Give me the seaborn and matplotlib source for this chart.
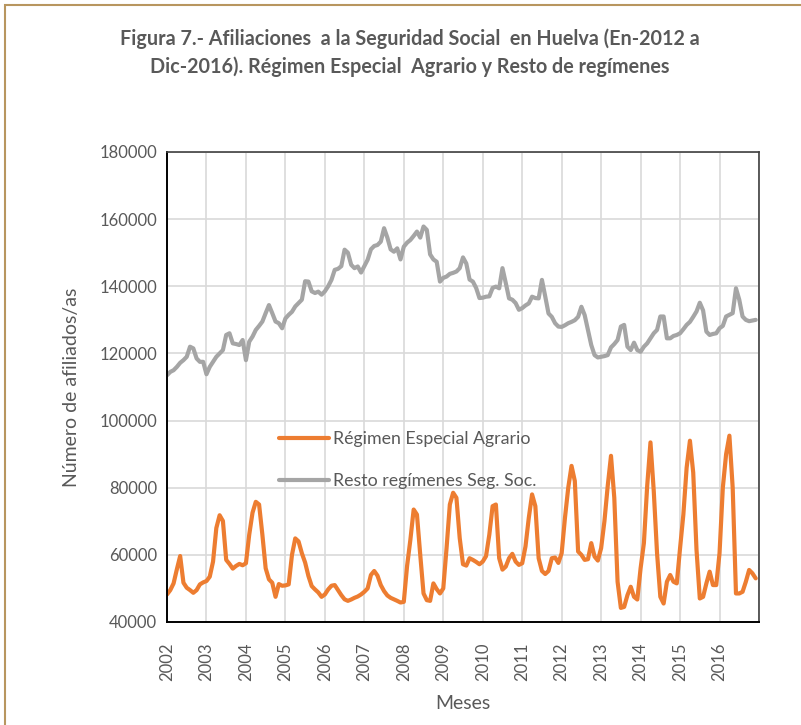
import numpy as np
import pandas as pd
import matplotlib
matplotlib.use("Agg")
import matplotlib.pyplot as plt
from matplotlib.patches import Rectangle
import seaborn as sns

# Afiliaciones mensuales, enero 2002 - diciembre 2016 (una fila por año)
agrario = [
    48200, 49500, 51500, 55700, 59650, 51700, 50200, 49500, 48700, 49500, 51200, 51800,  # 2002
    52200, 53500, 58000, 68000, 71800, 70100, 58500, 57300, 55900, 56700, 57300, 56900,  # 2003
    57500, 66000, 72550, 75800, 75000, 66000, 56000, 52700, 51700, 47500, 51300, 50800,  # 2004
    50900, 51200, 60000, 64900, 64000, 60500, 57700, 53700, 50700, 49700, 48800, 47500,  # 2005
    48200, 49700, 50800, 51000, 49500, 48000, 46750, 46300, 46700, 47200, 47600, 48200,  # 2006
    49000, 50000, 54000, 55200, 53800, 51000, 49200, 47900, 47200, 46750, 46300, 45800,  # 2007
    46000, 56700, 64500, 73500, 72000, 60000, 48500, 46500, 46300, 51500, 49800, 48500,  # 2008
    50000, 62000, 75000, 78500, 77000, 65000, 57200, 56800, 59000, 58500, 57900, 57200,  # 2009
    58000, 59600, 66000, 74500, 75000, 59000, 55600, 56500, 59000, 60300, 58000, 57000,  # 2010
    57500, 62500, 71000, 78000, 74500, 59000, 55200, 54300, 55200, 59000, 59200, 57600,  # 2011
    60500, 71000, 80000, 86500, 82000, 61000, 60000, 58500, 58700, 63500, 59500, 58300,  # 2012
    62000, 70000, 80500, 89500, 77000, 52000, 44200, 44500, 48000, 50500, 47500, 46700,  # 2013
    56000, 63500, 80500, 93500, 79000, 60500, 47500, 45500, 52000, 54000, 52000, 51500,  # 2014
    62000, 72000, 86000, 94000, 84500, 61500, 47000, 47500, 51500, 55000, 51000, 51000,  # 2015
    60500, 80000, 90000, 95500, 80000, 48500, 48500, 49000, 52000, 55500, 54500, 53000,  # 2016
]

resto = [
    113500, 114500, 115000, 116000, 117200, 118000, 119000, 122000, 121500, 118500, 117500, 117500,  # 2002
    113800, 116000, 117500, 119000, 120000, 121000, 125500, 126000, 123000, 122800, 122500, 124000,  # 2003
    118000, 123500, 125000, 127000, 128200, 129500, 132000, 134400, 132000, 129500, 129000, 127500,  # 2004
    130400, 131500, 132400, 134000, 135000, 136000, 141500, 141400, 138500, 138000, 138400, 137500,  # 2005
    138500, 140000, 141900, 144900, 145200, 146000, 150900, 150000, 146400, 145400, 145900, 144100,  # 2006
    146000, 147900, 151000, 152000, 152300, 153300, 157300, 154500, 151000, 150300, 151300, 148000,  # 2007
    151800, 153000, 153800, 155000, 156300, 154500, 157800, 156800, 149500, 148000, 147300, 141400,  # 2008
    142500, 142900, 143700, 144000, 144400, 145400, 148600, 146800, 142000, 141400, 139500, 136500,  # 2009
    136600, 136900, 137000, 139500, 139900, 139400, 145400, 141000, 136400, 136000, 135000, 133000,  # 2010
    133500, 134300, 134900, 136900, 136500, 136400, 141900, 137000, 131900, 130900, 129000, 128000,  # 2011
    127900, 128400, 129000, 129400, 129900, 130900, 133900, 131400, 126900, 122500, 119500, 118800,  # 2012
    119000, 119200, 119500, 121800, 122800, 124000, 128000, 128500, 122000, 121000, 123200, 121000,  # 2013
    120500, 122000, 123000, 124500, 126000, 127000, 131000, 131000, 124500, 124500, 125200, 125500,  # 2014
    126000, 127200, 128500, 129400, 130900, 132500, 135100, 132800, 126500, 125500, 125800, 126000,  # 2015
    127500, 128200, 131000, 131500, 132000, 139400, 136000, 131000, 130000, 129600, 129800, 130000,  # 2016
]

years = [str(y) for y in range(2002, 2017)]

COLOR_AGR = "#ED7D31"
COLOR_RES = "#A5A5A5"
TEXT = "#595959"

df = pd.DataFrame({
    "mes": np.arange(len(agrario)),
    "Régimen Especial Agrario": agrario,
    "Resto regímenes Seg. Soc.": resto,
})

sns.set_style("white")
plt.rcParams["font.family"] = ["Lato", "DejaVu Sans"]

fig = plt.figure(figsize=(8.01, 7.25), dpi=100)
ax = fig.add_axes([167 / 801, 1 - 622 / 725, (759 - 167) / 801, (622 - 152) / 725])

sns.lineplot(data=df, x="mes", y="Régimen Especial Agrario", ax=ax,
             color=COLOR_AGR, linewidth=3.0, label="Régimen Especial Agrario")
sns.lineplot(data=df, x="mes", y="Resto regímenes Seg. Soc.", ax=ax,
             color=COLOR_RES, linewidth=3.0, label="Resto regímenes Seg. Soc.")

ax.set_xlim(0, 180)
ax.set_ylim(40000, 180000)
ax.set_yticks(np.arange(40000, 180001, 20000))
ax.set_yticklabels([f"{v}" for v in range(40000, 180001, 20000)], color=TEXT, fontsize=12)
ax.set_xticks(np.arange(0, 181, 12))
ax.set_xticklabels(years + [""], rotation=90, color=TEXT, fontsize=12)
ax.tick_params(axis="y", length=0, pad=7)
ax.tick_params(axis="x", length=5, width=1.2, color="black", direction="out", pad=10)

ax.grid(True, color="#D9D9D9", linewidth=1.2)
ax.set_axisbelow(True)
for side in ["left", "bottom"]:
    ax.spines[side].set_color("black")
    ax.spines[side].set_linewidth(1.4)
for side in ["top", "right"]:
    ax.spines[side].set_color("#404040")
    ax.spines[side].set_linewidth(1.2)

ax.set_xlabel("Meses", color=TEXT, fontsize=14, labelpad=10)
ax.set_ylabel("Número de afiliados/as", color=TEXT, fontsize=14, labelpad=14)

leg = ax.legend(loc="center left", bbox_to_anchor=(0.174, 0.344), frameon=False,
                fontsize=12.8, handlelength=2.8, handletextpad=0.25, labelspacing=1.45,
                borderpad=0)
for t in leg.get_texts():
    t.set_color(TEXT)

fig.text(0.512, 1 - 53 / 725,
         "Figura 7.- Afiliaciones  a la Seguridad Social  en Huelva (En-2012 a\n"
         "Dic-2016). Régimen Especial  Agrario y Resto de regímenes",
         ha="center", va="center", fontsize=14.2, fontweight="bold", color=TEXT,
         linespacing=1.45)

fig.patches.append(Rectangle((5 / 801, -0.1), 1.2, 1.1 - 5 / 725, transform=fig.transFigure,
                             fill=False, edgecolor="#B8965F", linewidth=1.5))

fig.savefig("out.png", dpi=100)
plt.close()
